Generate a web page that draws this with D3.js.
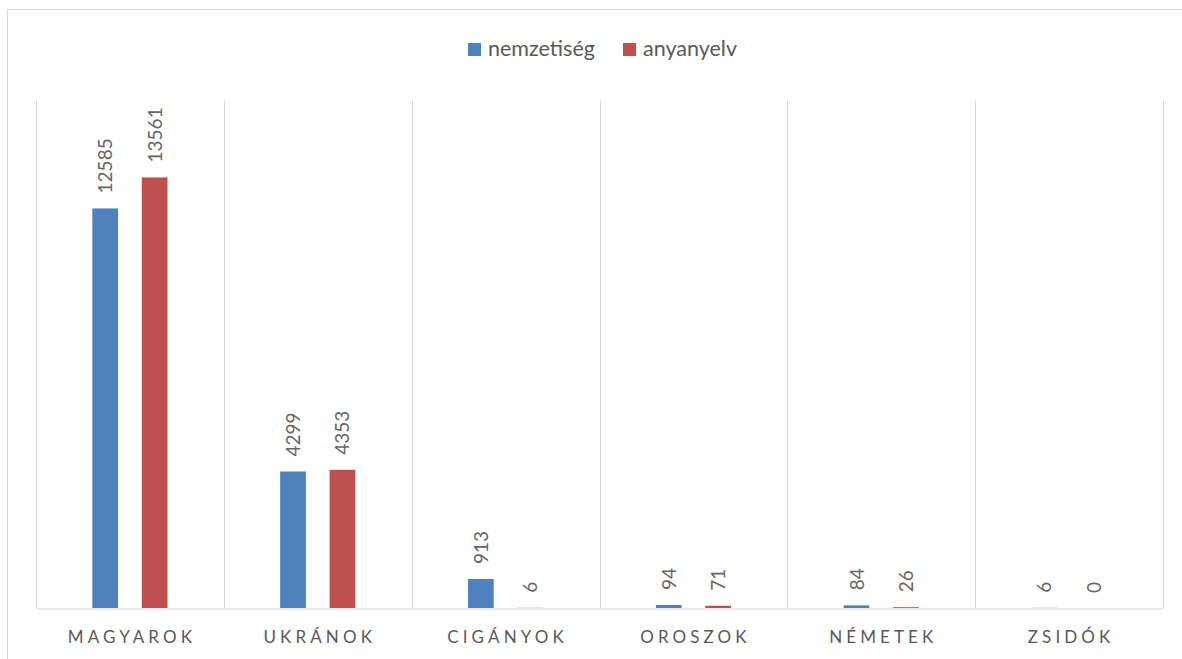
<!DOCTYPE html>
<html>
<head>
<meta charset="utf-8">
<script src="https://cdn.jsdelivr.net/npm/d3@7"></script>
<style>
  body { margin: 0; background: #fff; }
  text { font-family: Lato, "Open Sans", sans-serif; }
</style>
</head>
<body>
<svg id="chart"></svg>
<script>
// Chart data
const categories = ["MAGYAROK", "UKRÁNOK", "CIGÁNYOK", "OROSZOK", "NÉMETEK", "ZSIDÓK"];
const seriesNames = ["nemzetiség", "anyanyelv"];
const nemzetiseg = [12585, 4299, 913, 94, 84, 6];
const anyanyelv = [13561, 4353, 6, 71, 26, 0];
const colors = ["#4f81bd", "#c0504d"];

/*
 * Layout numbers for the svg
 */
const dims = {
    width: 1182,
    height: 659,
    plotLeft: 36,
    plotRight: 1163,
    plotTop: 100,
    plotBottom: 608
};

function chart() {
    const svg = d3.select("#chart")
        .attr("width", dims.width)
        .attr("height", dims.height);

    // outer chart border
    svg.append("rect")
        .attr("x", 7.5).attr("y", 9.5)
        .attr("width", 1200).attr("height", 700)
        .attr("fill", "none")
        .attr("stroke", "#d9d9d9");

    const x0 = d3.scaleBand()
        .domain(categories)
        .range([dims.plotLeft, dims.plotRight]);

    const x1 = d3.scaleBand()
        .domain(seriesNames)
        .range([0, x0.bandwidth()])
        .paddingInner(0.48)
        .paddingOuter(1.14);

    const y = d3.scaleLinear()
        .domain([0, 16000])
        .range([dims.plotBottom, dims.plotTop]);

    // vertical gridlines between categories
    const bounds = categories.map(c => x0(c)).concat([dims.plotRight]);
    svg.append("g")
        .selectAll("line")
        .data(bounds)
        .join("line")
        .attr("x1", d => Math.round(d) + 0.5)
        .attr("x2", d => Math.round(d) + 0.5)
        .attr("y1", dims.plotTop)
        .attr("y2", dims.plotBottom)
        .attr("stroke", "#d9d9d9");

    // bottom axis
    const xAxis = g => g
        .attr("transform", `translate(0, ${dims.plotBottom + 0.5})`)
        .call(d3.axisBottom(x0).tickSize(0).tickPadding(22))
        .call(g => g.select(".domain").attr("stroke", "#d9d9d9"))
        .call(g => g.selectAll(".tick text")
            .attr("fill", "#595959")
            .style("font-size", "17px")
            .style("letter-spacing", "4.1px")
            .attr("dx", "2px"));

    const rows = categories.map((c, i) => ({
        cat: c,
        values: [nemzetiseg[i], anyanyelv[i]]
    }));

    const groups = svg.append("g")
        .selectAll("g")
        .data(rows)
        .join("g")
        .attr("transform", d => `translate(${x0(d.cat)},0)`);

    groups.selectAll("rect")
        .data(d => d.values.map((v, k) => ({ key: seriesNames[k], value: v, k: k })))
        .join("rect")
        .attr("x", d => x1(d.key))
        .attr("width", x1.bandwidth())
        .attr("y", d => y(d.value))
        .attr("height", d => y(0) - y(d.value))
        .attr("fill", d => colors[d.k]);

    // rotated data labels
    groups.selectAll("text")
        .data(d => d.values.map((v, k) => ({ key: seriesNames[k], value: v })))
        .join("text")
        .attr("transform", d => `translate(${x1(d.key) + x1.bandwidth() / 2 + 7},${y(d.value) - 15}) rotate(-90)`)
        .attr("text-anchor", "start")
        .attr("fill", "#666666")
        .style("font-size", "19px")
        .text(d => d.value);

    svg.append("g").call(xAxis);

    // legend
    const legendX = [468, 623];
    const legend = svg.append("g")
        .selectAll("g")
        .data(seriesNames)
        .join("g")
        .attr("transform", (d, i) => `translate(${legendX[i]},43)`);

    legend.append("rect")
        .attr("width", 13)
        .attr("height", 13)
        .attr("fill", (d, i) => colors[i]);

    legend.append("text")
        .attr("x", 20)
        .attr("y", 13)
        .attr("fill", "#595959")
        .style("font-size", "21.5px")
        .text(d => d);
}

chart();
</script>
</body>
</html>
